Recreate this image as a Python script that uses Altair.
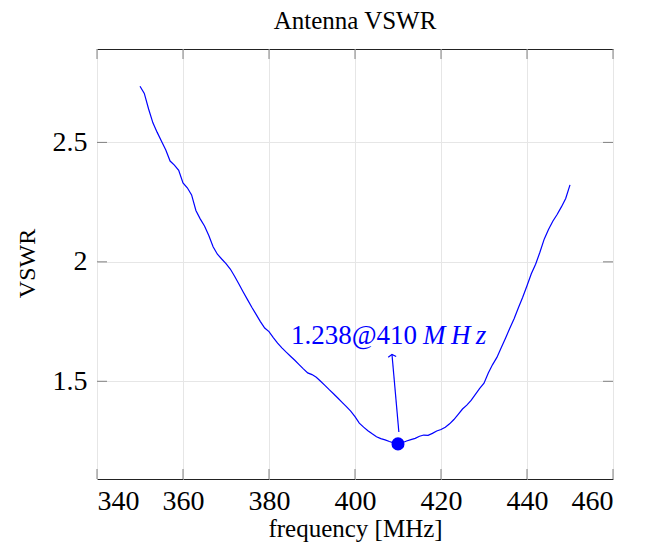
import altair as alt
import pandas as pd

# ---- data ----
freq = list(range(350, 451))
vswr = [
    2.735, 2.705, 2.640, 2.582, 2.542, 2.505, 2.468, 2.422, 2.405, 2.383,
    2.330, 2.310, 2.280, 2.215, 2.180, 2.150, 2.110, 2.063, 2.032, 2.012,
    1.993, 1.970, 1.940, 1.907, 1.874, 1.842, 1.810, 1.780, 1.750, 1.723,
    1.708, 1.683, 1.660, 1.640, 1.622, 1.605, 1.588, 1.570, 1.552, 1.535,
    1.528, 1.517, 1.500, 1.483, 1.465, 1.448, 1.430, 1.412, 1.394, 1.375,
    1.352, 1.325, 1.308, 1.293, 1.280, 1.268, 1.260, 1.255, 1.248, 1.242,
    1.238, 1.243, 1.250, 1.256, 1.261, 1.270, 1.275, 1.274, 1.282, 1.292,
    1.298, 1.308, 1.322, 1.340, 1.362, 1.384, 1.400, 1.420, 1.445, 1.470,
    1.492, 1.535, 1.570, 1.600, 1.640, 1.680, 1.722, 1.762, 1.808, 1.852,
    1.900, 1.950, 1.990, 2.040, 2.095, 2.135, 2.170, 2.198, 2.230, 2.265,
    2.322,
]
x_ticks = [340, 360, 380, 400, 420, 440, 460]
y_ticks = [1.5, 2.0, 2.5]
x_domain = [340, 460]
y_domain = [1.091, 2.891]
min_freq = [410]
min_vswr = [1.238]
arrow_freq = [410.2, 408.6]
arrow_vswr = [1.288, 1.612]
label_main = "1.238@410"
label_unit = "M\u2009H\u2009z"
chart_title = "Antenna VSWR"
x_title = "frequency [MHz]"
y_title = "VSWR"

FONT = "Liberation Serif"
BLUE = "#0000ff"
TICK = "#808080"

line_df = pd.DataFrame({"freq": freq, "vswr": vswr})
min_df = pd.DataFrame({"freq": min_freq, "vswr": min_vswr})
arrow_df = pd.DataFrame({"freq": [arrow_freq[0]], "vswr": [arrow_vswr[0]],
                         "freq2": [arrow_freq[1]], "vswr2": [arrow_vswr[1]]})
tip_df = pd.DataFrame({"freq": [arrow_freq[1]], "vswr": [arrow_vswr[1]]})
xt_df = pd.DataFrame({"freq": x_ticks})
yt_df = pd.DataFrame({"vswr": y_ticks})

W, H = 516, 430
xs = alt.Scale(domain=x_domain, nice=False, zero=False)
ys = alt.Scale(domain=y_domain, nice=False, zero=False)

x_axis = alt.Axis(values=x_ticks, format="d", title=x_title, grid=True,
                  gridColor="#e6e6e6", domain=False, ticks=False,
                  labelFont=FONT, labelFontSize=28, labelColor="black",
                  labelPadding=30, labelBaseline="alphabetic",
                  titleFont=FONT, titleFontSize=25, titleFontWeight="normal",
                  titleColor="black", titleX=W / 2, titleY=57,
                  titleAlign="center", titleBaseline="alphabetic")
y_axis = alt.Axis(values=y_ticks, format="~g", title=y_title, grid=True,
                  gridColor="#e6e6e6", domain=False, ticks=False,
                  labelFont=FONT, labelFontSize=28, labelColor="black",
                  labelPadding=10,
                  titleFont=FONT, titleFontSize=24, titleFontWeight="normal",
                  titleColor="black", titleX=-70, titleY=214, titleAngle=270,
                  titleAlign="center", titleBaseline="middle")

X = alt.X("freq:Q", scale=xs, axis=x_axis, title=x_title)
Y = alt.Y("vswr:Q", scale=ys, axis=y_axis, title=y_title)

line = alt.Chart(line_df).mark_line(color=BLUE, strokeWidth=1.2).encode(x=X, y=Y)

xt_bottom = alt.Chart(xt_df).mark_rule(color=TICK, strokeWidth=1).encode(
    x=X, y=alt.value(H), y2=alt.value(H - 10))
xt_top = alt.Chart(xt_df).mark_rule(color=TICK, strokeWidth=1).encode(
    x=X, y=alt.value(0), y2=alt.value(10))
yt_left = alt.Chart(yt_df).mark_rule(color=TICK, strokeWidth=1).encode(
    y=Y, x=alt.value(0), x2=alt.value(10))
yt_right = alt.Chart(yt_df).mark_rule(color=TICK, strokeWidth=1).encode(
    y=Y, x=alt.value(W - 10), x2=alt.value(W))

arrow = alt.Chart(arrow_df).mark_rule(color=BLUE, strokeWidth=1.2).encode(
    x=X, x2="freq2:Q", y=Y, y2="vswr2:Q")
tip = alt.Chart(tip_df).mark_point(shape="M-1,0.6L0,0L1,0.6", filled=False,
                                   size=64, angle=355, color=BLUE,
                                   strokeWidth=1.2, opacity=1).encode(x=X, y=Y)

marker = alt.Chart(min_df).mark_circle(size=170, color=BLUE, opacity=1).encode(x=X, y=Y)

txt_main = alt.Chart(min_df).mark_text(text=label_main, align="right",
                                       baseline="alphabetic", dx=19, dy=-100,
                                       font=FONT, fontSize=27, color=BLUE).encode(x=X, y=Y)
txt_unit = alt.Chart(min_df).mark_text(text=label_unit, align="left",
                                       baseline="alphabetic", dx=25, dy=-100,
                                       font=FONT, fontSize=27, fontStyle="italic",
                                       color=BLUE).encode(x=X, y=Y)

chart = alt.layer(
    line, xt_bottom, xt_top, yt_left, yt_right, arrow, tip, marker,
    txt_main, txt_unit,
).properties(
    width=W, height=H,
    padding={"left": 89, "top": 41, "right": 20, "bottom": 63},
    autosize=alt.AutoSizeParams(type="none"),
    title=alt.TitleParams(chart_title, font=FONT, fontSize=25,
                          fontWeight="normal", color="black", offset=15,
                          anchor="middle"),
).configure_view(stroke="#222222", strokeWidth=1)

chart.save("out.html", embed_options={"renderer": "svg", "actions": False})
